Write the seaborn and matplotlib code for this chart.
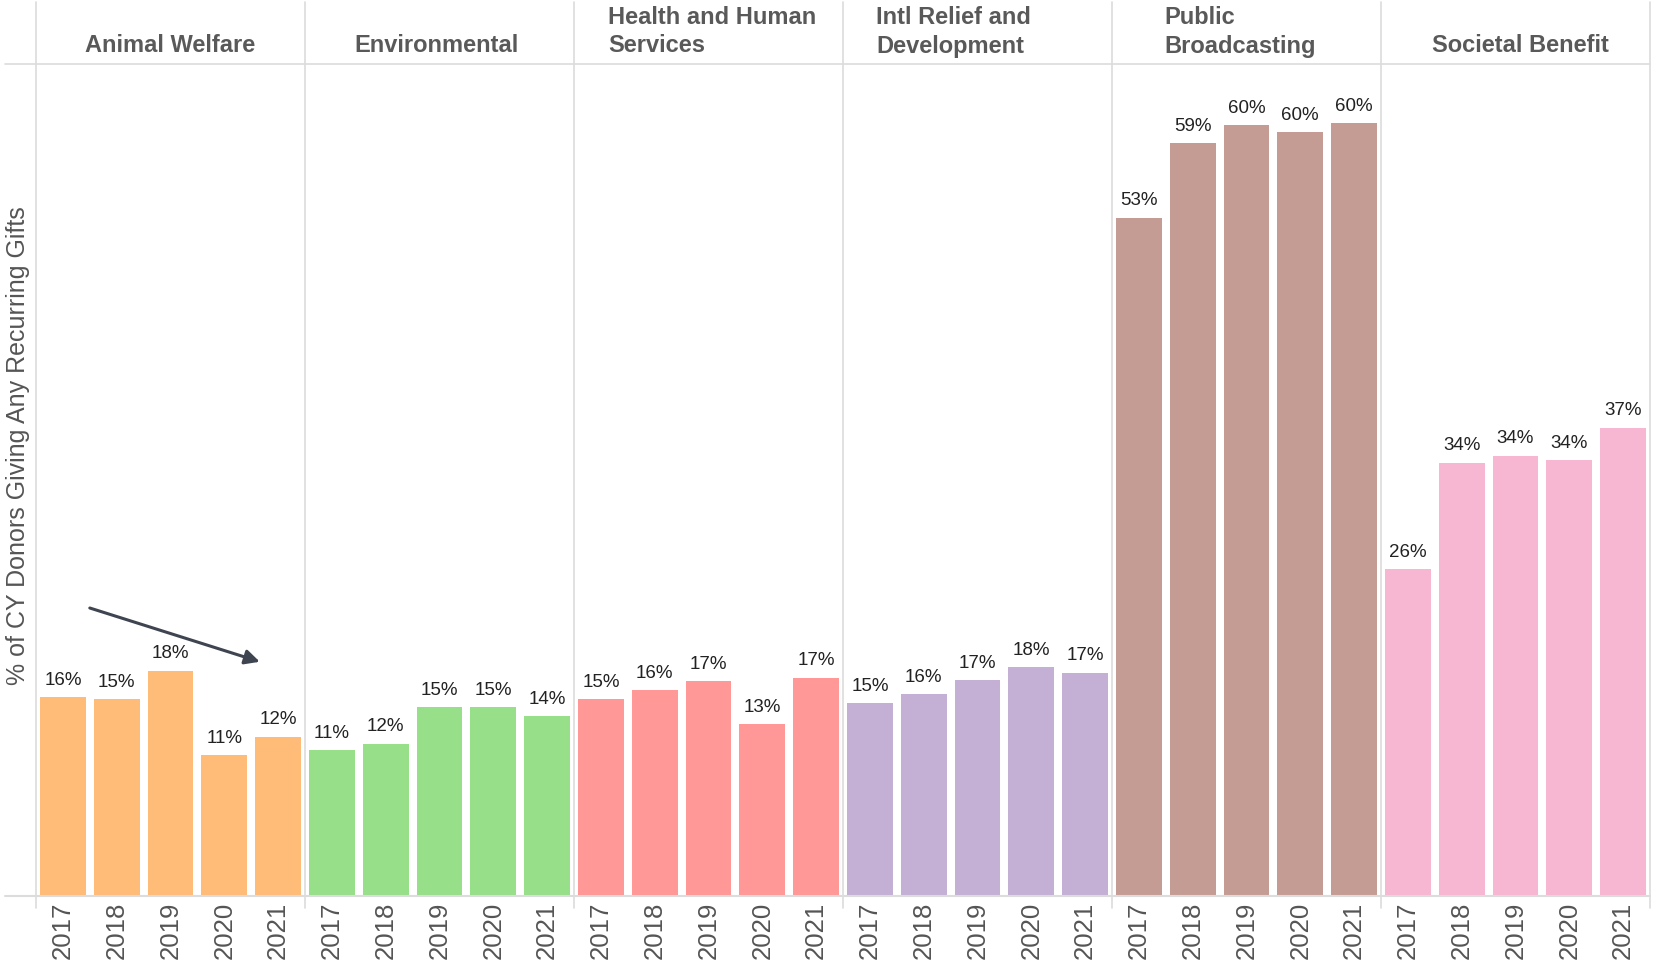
import matplotlib
matplotlib.use("Agg")
import matplotlib.pyplot as plt
from matplotlib.lines import Line2D
import pandas as pd
import seaborn as sns

# --- data -------------------------------------------------------------
categories = [
    "Animal Welfare",
    "Environmental",
    "Health and Human\nServices",
    "Intl Relief and\nDevelopment",
    "Public\nBroadcasting",
    "Societal Benefit",
]
years = ["2017", "2018", "2019", "2020", "2021"]

animal_welfare = [15.55, 15.4, 17.6, 11.0, 12.45]
environmental = [11.4, 11.9, 14.75, 14.75, 14.05]
health_human = [15.4, 16.1, 16.8, 13.45, 17.05]
intl_relief = [15.05, 15.75, 16.85, 17.9, 17.45]
public_broadcasting = [53.0, 58.8, 60.2, 59.7, 60.4]
societal_benefit = [25.55, 33.85, 34.4, 34.05, 36.6]

series = [animal_welfare, environmental, health_human,
          intl_relief, public_broadcasting, societal_benefit]

y_label = "% of CY Donors Giving Any Recurring Gifts"

rows = []
for cat, vals in zip(categories, series):
    for yr, v in zip(years, vals):
        rows.append({"category": cat, "year": yr, "pct": v})
df = pd.DataFrame(rows)

# --- style ------------------------------------------------------------
sns.set_style("white")
plt.rcParams["font.family"] = ["Liberation Sans", "DejaVu Sans"]

tab20 = sns.color_palette("tab20", 20)
colors = [tab20[i] for i in (3, 5, 7, 9, 11, 13)]

# horizontal nudge (pixels) for the wrapped header blocks
header_shift = [0, -3, 4, -24, -6, 5]

W, H = 1664, 967
fig, axes = plt.subplots(1, 6, figsize=(W / 100, H / 100), dpi=100, sharey=True)
fig.subplots_adjust(left=36 / W, right=1650 / W, bottom=1 - 896 / H,
                    top=1 - 64 / H, wspace=0)

grid = "#dcdcdc"
for ax, cat, col, dx in zip(axes, categories, colors, header_shift):
    sub = df[df["category"] == cat]
    sns.barplot(data=sub, x="year", y="pct", order=years, color=col,
                saturation=1, width=0.85, ax=ax, linewidth=0)
    ax.bar_label(ax.containers[0], fmt="{:.0f}%", padding=6,
                 fontsize=13.5, color="#222222")
    ax.set_ylim(0, 65)
    ax.set_xlim(-0.5, 4.5)
    ax.set_xlabel("")
    ax.set_ylabel("")
    ax.set_yticks([])
    for s in ax.spines.values():
        s.set_visible(False)
    ax.tick_params(axis="x", which="major", length=0, pad=4,
                   labelsize=18.5, labelcolor="#555555", labelrotation=90)
    ax.set_xticks([0.5, 1.5, 2.5, 3.5], minor=True)
    ax.tick_params(axis="x", which="minor", length=9, width=1, color=grid)

    # panel header
    pos = ax.get_position()
    fig.text((pos.x0 + pos.x1) / 2 + dx / W, 1 - 57.5 / H, cat, ha="center",
             va="bottom", multialignment="left", fontsize=17,
             fontweight="bold", color="#595959", linespacing=1.3)

# trend arrow over Animal Welfare
axes[0].annotate("", xy=(3.66, 18.3), xytext=(0.5, 22.5),
                 arrowprops=dict(arrowstyle="-|>", color="#3f4550", lw=2.2,
                                 mutation_scale=22, shrinkA=0, shrinkB=0))

# frame lines: header divider, baseline, panel separators
fig.add_artist(Line2D([5 / W, 1650 / W], [1 - 64 / H, 1 - 64 / H],
                      transform=fig.transFigure, color=grid, lw=1.2))
fig.add_artist(Line2D([5 / W, 1650 / W], [1 - 896 / H, 1 - 896 / H],
                      transform=fig.transFigure, color=grid, lw=1.5))
edges = [ax.get_position().x0 for ax in axes] + [axes[-1].get_position().x1]
for x in edges:
    fig.add_artist(Line2D([x, x], [1 - 2 / H, 1 - 908 / H],
                          transform=fig.transFigure, color=grid, lw=1.2))

fig.text(18 / W, 1 - 446 / H, y_label, rotation=90, ha="center", va="center",
         fontsize=18, color="#555555")

fig.savefig("out.png", dpi=100, facecolor="white")
